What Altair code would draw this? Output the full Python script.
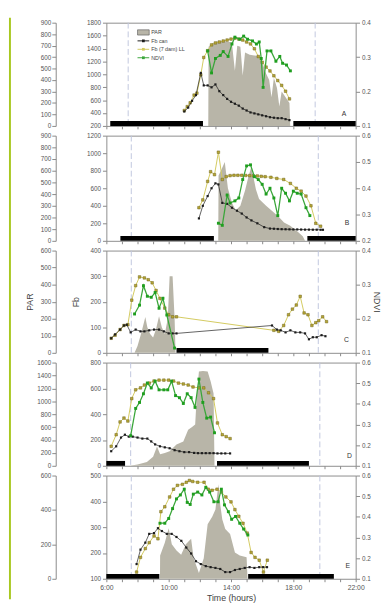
import altair as alt
import pandas as pd

FONT = "Liberation Sans"
HOUR_TICKS = list(range(6, 23))
X_DOMAIN = [6, 22]
LEGEND_LABELS = ["PAR", "Fb can", "Fb (7 dam) LL", "NDVI"]

PAR_FILL = "#b8b5a8"
CAN_COLOR = "#1c1c1c"
LL_LINE = "#d3ca5e"
LL_FILL = "#b7a634"
LL_STROKE = "#6e6420"
ND_LINE = "#3aa63a"
ND_FILL = "#1f9e1f"

# ---------------- Panel A ----------------
A_PAR_T = [12.54, 12.56, 12.8, 13.1, 13.4, 13.7, 14.05, 14.25, 14.4, 14.6, 14.75, 14.9, 15.2, 15.5, 15.8, 16.0, 16.2, 16.45, 16.6, 16.75, 16.95, 17.1, 17.25, 17.5, 17.75, 17.8]
A_PAR_V = [0, 690, 720, 735, 740, 735, 730, 480, 700, 690, 440, 640, 620, 615, 610, 560, 470, 400, 250, 420, 330, 170, 300, 250, 200, 0]
A_CAN_T = [11.0, 11.25, 11.5, 11.75, 12.06, 12.25, 12.5, 12.75, 13.0, 13.25, 13.5, 13.75, 14.0, 14.25, 14.5, 14.75, 15.0, 15.25, 15.5, 15.75, 16.0, 16.25, 16.5, 16.75, 17.0, 17.25, 17.5, 17.75]
A_CAN_V = [424, 484, 589, 678, 1022, 828, 828, 798, 843, 738, 678, 619, 574, 544, 514, 469, 439, 409, 394, 379, 364, 350, 335, 327, 320, 320, 305, 290]
A_LL_T = [11.0, 11.19, 11.38, 11.63, 11.81, 12.06, 12.25, 12.5, 12.75, 13.0, 13.25, 13.5, 13.75, 14.0, 14.25, 14.5, 14.75, 15.0, 15.25, 15.5, 15.75, 16.0, 16.25, 16.5, 16.75, 17.0, 17.25, 17.5, 17.75]
A_LL_V = [439, 499, 559, 678, 708, 992, 1261, 1366, 1456, 1486, 1501, 1516, 1531, 1546, 1560, 1546, 1531, 1501, 1471, 1396, 1276, 1187, 1112, 1052, 977, 903, 828, 738, 619]
A_ND_T = [12.5, 12.75, 13.0, 13.31, 13.5, 13.81, 14.06, 14.25, 14.56, 14.81, 15.06, 15.38, 15.63, 15.81, 15.94, 16.06, 16.31, 16.56, 16.88, 17.13, 17.31, 17.56, 17.81]
A_ND_V = [0.318, 0.254, 0.296, 0.305, 0.316, 0.302, 0.338, 0.358, 0.352, 0.361, 0.352, 0.347, 0.338, 0.344, 0.296, 0.212, 0.318, 0.318, 0.288, 0.302, 0.282, 0.277, 0.260]
A_NIGHT_S = [6.25, 18.0]
A_NIGHT_E = [12.2, 22.0]
A_DASH = [7.4, 19.4]

# ---------------- Panel B ----------------
B_PAR_T = [13.18, 13.2, 13.35, 13.6, 13.8, 14.06, 14.3, 14.6, 14.9, 15.1, 15.3, 15.6, 15.8, 16.25, 16.75, 17.1, 17.4, 17.8, 18.3, 18.6, 18.75]
B_PAR_V = [0, 560, 600, 675, 450, 325, 260, 300, 430, 540, 633, 440, 358, 300, 242, 200, 158, 130, 75, 40, 0]
B_LL_T = [11.94, 12.19, 12.5, 12.69, 12.94, 13.19, 13.44, 13.69, 13.94, 14.19, 14.44, 14.69, 14.94, 15.19, 15.44, 15.69, 15.94, 16.19, 16.56, 16.94, 17.38, 17.81, 18.19, 18.5, 18.81, 19.13, 19.44, 19.75]
B_LL_V = [378, 467, 678, 789, 755, 1011, 700, 733, 744, 748, 748, 748, 746, 744, 742, 740, 736, 732, 725, 712, 700, 655, 600, 567, 511, 400, 200, 167]
B_CAN_T = [11.94, 12.19, 12.5, 12.75, 13.0, 13.19, 13.44, 13.75, 14.06, 14.38, 14.69, 15.0, 15.31, 15.69, 16.13, 16.5, 16.75, 17.0, 17.25, 17.5, 17.75, 18.0, 18.25, 18.5, 18.75, 19.0, 19.25, 19.5, 19.75, 19.9]
B_CAN_V = [256, 400, 511, 600, 656, 644, 433, 422, 378, 344, 311, 267, 233, 200, 156, 140, 138, 135, 133, 132, 131, 130, 130, 129, 128, 128, 127, 127, 126, 126]
B_ND_T = [13.19, 13.44, 13.75, 13.94, 14.25, 14.5, 14.75, 15.0, 15.25, 15.5, 15.75, 16.0, 16.25, 16.5, 16.75, 17.0, 17.25, 17.5, 17.75, 18.0, 18.25, 18.5, 18.81, 19.06]
B_ND_V = [0.267, 0.259, 0.374, 0.344, 0.352, 0.363, 0.433, 0.485, 0.489, 0.444, 0.433, 0.415, 0.378, 0.400, 0.363, 0.296, 0.400, 0.381, 0.352, 0.389, 0.381, 0.378, 0.326, 0.296]
B_NIGHT_S = [6.9, 18.9]
B_NIGHT_E = [12.9, 22.0]
B_DASH = [7.6, 19.6]

# ---------------- Panel C ----------------
C_PAR_T = [7.81, 8.0, 8.25, 8.5, 8.63, 8.81, 9.0, 9.19, 9.38, 9.56, 9.75, 9.94, 10.06, 10.25, 10.38, 10.44]
C_PAR_V = [0, 40, 120, 210, 150, 110, 90, 140, 215, 150, 110, 200, 450, 450, 200, 0]
C_LL_T = [6.31, 6.56, 6.88, 7.13, 7.38, 7.63, 7.88, 8.13, 8.44, 8.69, 8.94, 9.19, 9.44, 9.75, 10.0, 10.25, 10.5, 16.75, 17.06, 17.38, 17.69, 17.94, 18.19, 18.44, 18.69, 18.94, 19.19, 19.44, 19.63, 19.88, 20.13]
C_LL_V = [57, 69, 91, 107, 110, 206, 263, 297, 293, 286, 274, 244, 213, 175, 149, 141, 141, 88, 84, 107, 149, 171, 187, 221, 156, 149, 107, 118, 126, 141, 122]
C_CAN_T = [6.31, 6.56, 6.88, 7.13, 7.31, 7.56, 7.88, 8.19, 8.44, 8.75, 9.06, 9.38, 9.69, 10.0, 10.25, 10.5, 16.63, 16.94, 17.19, 17.5, 17.81, 18.13, 18.44, 18.75, 19.0, 19.25, 19.5, 19.81, 20.06]
C_CAN_V = [57, 72, 91, 107, 110, 80, 91, 84, 84, 88, 91, 91, 84, 76, 76, 76, 107, 91, 88, 80, 88, 80, 80, 76, 53, 61, 61, 69, 65]
C_ND_T = [7.81, 8.13, 8.38, 8.63, 8.88, 9.13, 9.38, 9.63, 9.88, 10.38]
C_ND_V = [0.214, 0.240, 0.297, 0.266, 0.263, 0.277, 0.231, 0.260, 0.211, 0.114]
C_NIGHT_S = [10.5]
C_NIGHT_E = [16.4]
C_DASH = [7.6, 19.6]

# ---------------- Panel D ----------------
D_PAR_T = [7.5, 8.0, 8.6, 9.0, 9.25, 9.45, 9.75, 10.06, 10.5, 10.94, 11.25, 11.5, 11.7, 11.8, 11.94, 12.2, 12.5, 12.69, 12.88, 12.94]
D_PAR_V = [0, 20, 60, 140, 300, 180, 200, 226, 330, 377, 560, 600, 640, 1080, 1460, 1470, 1460, 1310, 1120, 0]
D_LL_T = [6.31, 6.63, 6.88, 7.13, 7.38, 7.63, 7.88, 8.19, 8.44, 8.75, 9.06, 9.38, 9.69, 10.0, 10.31, 10.63, 10.94, 11.25, 11.56, 11.94, 12.25, 12.56, 12.88, 13.13, 13.44, 13.69, 13.94]
D_LL_V = [151, 241, 340, 370, 347, 521, 589, 604, 626, 641, 657, 664, 664, 664, 657, 641, 634, 626, 611, 604, 604, 566, 521, 332, 241, 226, 211]
D_CAN_T = [6.31, 6.63, 6.94, 7.19, 7.44, 7.69, 8.0, 8.31, 8.63, 8.88, 9.13, 9.44, 9.75, 10.06, 10.38, 10.69, 11.0, 11.31, 11.63, 11.88, 12.13, 12.38, 12.63, 12.88, 13.13, 13.38, 13.63, 13.94]
D_CAN_V = [113, 151, 219, 241, 226, 226, 219, 211, 211, 189, 166, 151, 143, 136, 121, 113, 106, 106, 100, 98, 98, 98, 98, 98, 96, 96, 96, 96]
D_ND_T = [7.56, 7.88, 8.13, 8.38, 8.63, 8.88, 9.13, 9.38, 9.69, 9.94, 10.19, 10.44, 10.69, 10.94, 11.19, 11.44, 11.69, 11.94, 12.19, 12.44, 12.69, 12.94]
D_ND_V = [0.246, 0.378, 0.407, 0.449, 0.501, 0.477, 0.510, 0.468, 0.468, 0.468, 0.510, 0.440, 0.430, 0.402, 0.449, 0.430, 0.383, 0.520, 0.407, 0.331, 0.336, 0.260]
D_NIGHT_S = [6.0, 13.1]
D_NIGHT_E = [7.2, 19.0]
D_DASH = [7.56, 19.7]

# ---------------- Panel E ----------------
E_PAR_T = [9.44, 9.45, 9.75, 10.0, 10.2, 10.5, 10.8, 11.1, 11.44, 11.6, 11.94, 12.25, 12.5, 12.8, 13.0, 13.19, 13.31, 13.44, 13.63, 13.94, 14.25, 14.56, 15.0, 15.06]
E_PAR_V = [0, 136, 210, 294, 200, 164, 140, 200, 232, 119, 34, 119, 317, 362, 402, 549, 430, 345, 289, 260, 153, 136, 125, 0]
E_LL_T = [7.94, 8.19, 8.5, 8.75, 9.06, 9.31, 9.5, 9.75, 10.06, 10.31, 10.56, 10.88, 11.13, 11.33, 11.54, 11.86, 12.27, 12.54, 12.79, 13.1, 13.38, 13.67, 14.0, 14.25, 14.5, 14.77, 15.04, 15.29, 15.54, 15.81, 16.08, 16.33]
E_LL_V = [126, 183, 217, 240, 266, 255, 360, 379, 417, 447, 462, 466, 474, 481, 477, 474, 474, 447, 443, 447, 436, 417, 398, 368, 342, 315, 277, 202, 183, 172, 126, 172]
E_CAN_T = [7.94, 8.19, 8.5, 8.75, 9.06, 9.31, 9.56, 9.88, 10.19, 10.5, 10.81, 11.13, 11.44, 11.75, 12.06, 12.38, 12.69, 13.0, 13.31, 13.63, 13.94, 14.25, 14.56, 14.88, 15.19, 15.5, 15.81, 16.06, 16.31]
E_CAN_V = [157, 213, 240, 274, 277, 296, 285, 274, 274, 262, 247, 221, 198, 168, 157, 149, 145, 142, 138, 126, 126, 134, 138, 142, 145, 142, 145, 145, 145]
E_ND_T = [9.44, 9.75, 10.0, 10.25, 10.5, 10.75, 11.0, 11.19, 11.38, 11.58, 11.86, 12.13, 12.38, 12.63, 12.9, 13.17, 13.38, 13.58, 13.83, 14.04, 14.29, 14.56, 14.81, 15.08]
E_ND_V = [0.369, 0.369, 0.392, 0.440, 0.487, 0.506, 0.534, 0.470, 0.460, 0.510, 0.520, 0.506, 0.543, 0.520, 0.473, 0.473, 0.534, 0.458, 0.425, 0.388, 0.402, 0.369, 0.341, 0.312]
E_NIGHT_S = [6.0, 15.1]
E_NIGHT_E = [9.4, 20.6]
E_DASH = [7.6, 19.7]


def x_axis(bottom):
    if bottom:
        return alt.Axis(values=HOUR_TICKS, labels=True, ticks=True, tickSize=3, domain=False, grid=False,
                        labelExpr="(datum.value - 6) % 4 == 0 ? datum.value + ':00' : ''",
                        labelOverlap=False, labelFlush=False, labelFontSize=7, labelPadding=2,
                        title="Time (hours)", titlePadding=3, titleFontSize=9)
    return alt.Axis(values=HOUR_TICKS, labels=False, ticks=True, tickSize=3, domain=False, grid=False, title=None)


def panel(h, par, can, ll, nd, nights, dashes, par_dom, par_vals, fb_dom, fb_vals,
          nd_dom, nd_vals, letter, letter_t, letter_dy, bottom=False, titles=False, extras=()):
    xa = x_axis(bottom)

    def X(field="t"):
        return alt.X(f"{field}:Q", scale=alt.Scale(domain=X_DOMAIN, nice=False, zero=False), axis=xa)

    par_axis = alt.Axis(orient="left", offset=52, values=par_vals, format="d", title="PAR" if titles else None,
                        domain=True, tickSize=4, labelPadding=1, titlePadding=6, grid=False)
    fb_axis = alt.Axis(orient="left", values=fb_vals, format="d", title="Fb" if titles else None,
                       domain=False, tickSize=4, labelPadding=2, titlePadding=10, grid=False)
    nd_axis = alt.Axis(orient="right", values=nd_vals, format=".1f", title="NDVI" if titles else None,
                       domain=False, tickSize=4, labelPadding=2, titlePadding=1, grid=False)

    def FY():
        return alt.Y("v:Q", scale=alt.Scale(domain=fb_dom, nice=False, zero=False), axis=fb_axis)

    par_df = pd.DataFrame({"t": par[0], "v": par[1]})
    can_df = pd.DataFrame({"t": can[0], "v": can[1]})
    ll_df = pd.DataFrame({"t": ll[0], "v": ll[1]})
    nd_df = pd.DataFrame({"t": nd[0], "v": nd[1]})
    night_df = pd.DataFrame({"t": nights[0], "t2": nights[1]})
    dash_df = pd.DataFrame({"t": dashes})
    let_df = pd.DataFrame({"t": [letter_t], "s": [letter]})

    par_layer = alt.Chart(par_df).mark_area(color=PAR_FILL, opacity=1).encode(
        x=X(),
        y=alt.Y("v:Q", scale=alt.Scale(domain=par_dom, nice=False, zero=False), axis=par_axis),
    )

    dash = alt.Chart(dash_df).mark_rule(color="#c0c6de", strokeDash=[6, 3], strokeWidth=1).encode(x=X())
    night = alt.Chart(night_df).mark_rule(color="black", strokeWidth=5, strokeCap="butt").encode(
        x=X(), x2="t2:Q", y=alt.value(h - 2.5))
    ll_line = alt.Chart(ll_df).mark_line(color=LL_LINE, strokeWidth=1).encode(x=X(), y=FY())
    ll_pts = alt.Chart(ll_df).mark_point(shape="square", filled=True, size=7, fill=LL_FILL,
                                         stroke=LL_STROKE, strokeWidth=0.5, opacity=1).encode(x=X(), y=FY())
    can_line = alt.Chart(can_df).mark_line(color=CAN_COLOR, strokeWidth=0.7).encode(x=X(), y=FY())
    can_pts = alt.Chart(can_df).mark_point(shape="square", filled=True, size=5, color=CAN_COLOR,
                                           opacity=1).encode(x=X(), y=FY())
    let = alt.Chart(let_df).mark_text(fontSize=7, color="#333", font=FONT).encode(
        x=X(), y=alt.value(h - letter_dy), text="s:N")
    fb_layer = alt.layer(dash, ll_line, ll_pts, can_line, can_pts, night, let)

    ndy = alt.Y("v:Q", scale=alt.Scale(domain=nd_dom, nice=False, zero=False), axis=nd_axis)
    nd_line = alt.Chart(nd_df).mark_line(color=ND_LINE, strokeWidth=1.3).encode(x=X(), y=ndy)
    nd_pts = alt.Chart(nd_df).mark_point(shape="square", filled=True, size=9, color=ND_FILL,
                                         opacity=1).encode(x=X(), y=ndy)
    nd_layer = alt.layer(nd_line, nd_pts)

    return alt.layer(par_layer, fb_layer, nd_layer, *extras).resolve_scale(y="independent").properties(
        width=256, height=h)


# legend (panel A) and left green rule
leg_df = pd.DataFrame({"row": LEGEND_LABELS})
legY = alt.Y("row:N", scale=alt.Scale(type="point", domain=LEGEND_LABELS, range=[10, 36], padding=0), axis=None)
leg_box = alt.Chart(leg_df[leg_df.row == "PAR"]).mark_point(
    shape="M-1,-0.45L1,-0.45L1,0.45L-1,0.45Z", filled=True, size=144, fill=PAR_FILL,
    stroke="#555", strokeWidth=0.6, opacity=1).encode(x=alt.value(38), y=legY)
line_rows = leg_df[leg_df.row != "PAR"]
legColor = alt.Color("row:N", scale=alt.Scale(domain=LEGEND_LABELS[1:], range=[CAN_COLOR, LL_LINE, ND_LINE]), legend=None)
leg_lines = alt.Chart(line_rows).mark_rule(strokeWidth=1).encode(
    x=alt.value(32), x2=alt.value(44), y=legY, color=legColor)
ptColor = alt.Color("row:N", scale=alt.Scale(domain=LEGEND_LABELS[1:], range=[CAN_COLOR, LL_FILL, ND_FILL]), legend=None)
leg_pts = alt.Chart(line_rows).mark_point(shape="square", filled=True, size=8, opacity=1).encode(
    x=alt.value(38), y=legY, color=ptColor)
leg_text = alt.Chart(leg_df).mark_text(align="left", baseline="middle", fontSize=5.5, color="#444", font=FONT).encode(
    x=alt.value(46), y=legY, text="row:N")
legend_layer = alt.layer(leg_box, leg_lines, leg_pts, leg_text)

green = alt.Chart(pd.DataFrame({"a": [0]})).mark_rule(color="#a8c820", strokeWidth=2).encode(
    x=alt.value(-99), y=alt.value(-5), y2=alt.value(592))

pA = panel(106, (A_PAR_T, A_PAR_V), (A_CAN_T, A_CAN_V), (A_LL_T, A_LL_V), (A_ND_T, A_ND_V),
           (A_NIGHT_S, A_NIGHT_E), A_DASH, [0, 900], list(range(0, 901, 100)),
           [200, 1800], list(range(200, 1801, 200)), [0.1, 0.4], [0.1, 0.2, 0.3, 0.4],
           "A", 21.25, 12, extras=(legend_layer, green))
pB = panel(108, (B_PAR_T, B_PAR_V), (B_CAN_T, B_CAN_V), (B_LL_T, B_LL_V), (B_ND_T, B_ND_V),
           (B_NIGHT_S, B_NIGHT_E), B_DASH, [0, 900], list(range(0, 901, 100)),
           [0, 1200], list(range(0, 1201, 200)), [0.2, 0.6], [0.2, 0.3, 0.4, 0.5, 0.6],
           "B", 21.45, 18)
pC = panel(105, (C_PAR_T, C_PAR_V), (C_CAN_T, C_CAN_V), (C_LL_T, C_LL_V), (C_ND_T, C_ND_V),
           (C_NIGHT_S, C_NIGHT_E), C_DASH, [0, 600], list(range(0, 601, 100)),
           [0, 400], list(range(0, 401, 100)), [0.1, 0.4], [0.1, 0.2, 0.3, 0.4],
           "C", 21.4, 13, titles=True)
pD = panel(106, (D_PAR_T, D_PAR_V), (D_CAN_T, D_CAN_V), (D_LL_T, D_LL_V), (D_ND_T, D_ND_V),
           (D_NIGHT_S, D_NIGHT_E), D_DASH, [0, 1600], list(range(0, 1601, 200)),
           [0, 800], list(range(0, 801, 200)), [0.1, 0.6], [0.1, 0.2, 0.3, 0.4, 0.5, 0.6],
           "D", 21.6, 10)
pE = panel(106, (E_PAR_T, E_PAR_V), (E_CAN_T, E_CAN_V), (E_LL_T, E_LL_V), (E_ND_T, E_ND_V),
           (E_NIGHT_S, E_NIGHT_E), E_DASH, [0, 600], [0, 200, 400, 600],
           [100, 500], list(range(100, 501, 100)), [0.1, 0.6], [0.1, 0.2, 0.3, 0.4, 0.5, 0.6],
           "E", 21.5, 13, bottom=True)

chart = alt.vconcat(pA, pB, pC, pD, pE, spacing=10, bounds="flush", padding=0).configure_view(
    stroke="#8c8c8c", strokeWidth=1
).configure_axis(
    labelFont=FONT, labelFontSize=6.5, labelColor="#555", tickColor="#888", domainColor="#888",
    titleFont=FONT, titleFontSize=9, titleColor="#444", titleFontWeight="normal", grid=False
)

chart.save("out.html", embed_options={"renderer": "svg", "actions": False})
